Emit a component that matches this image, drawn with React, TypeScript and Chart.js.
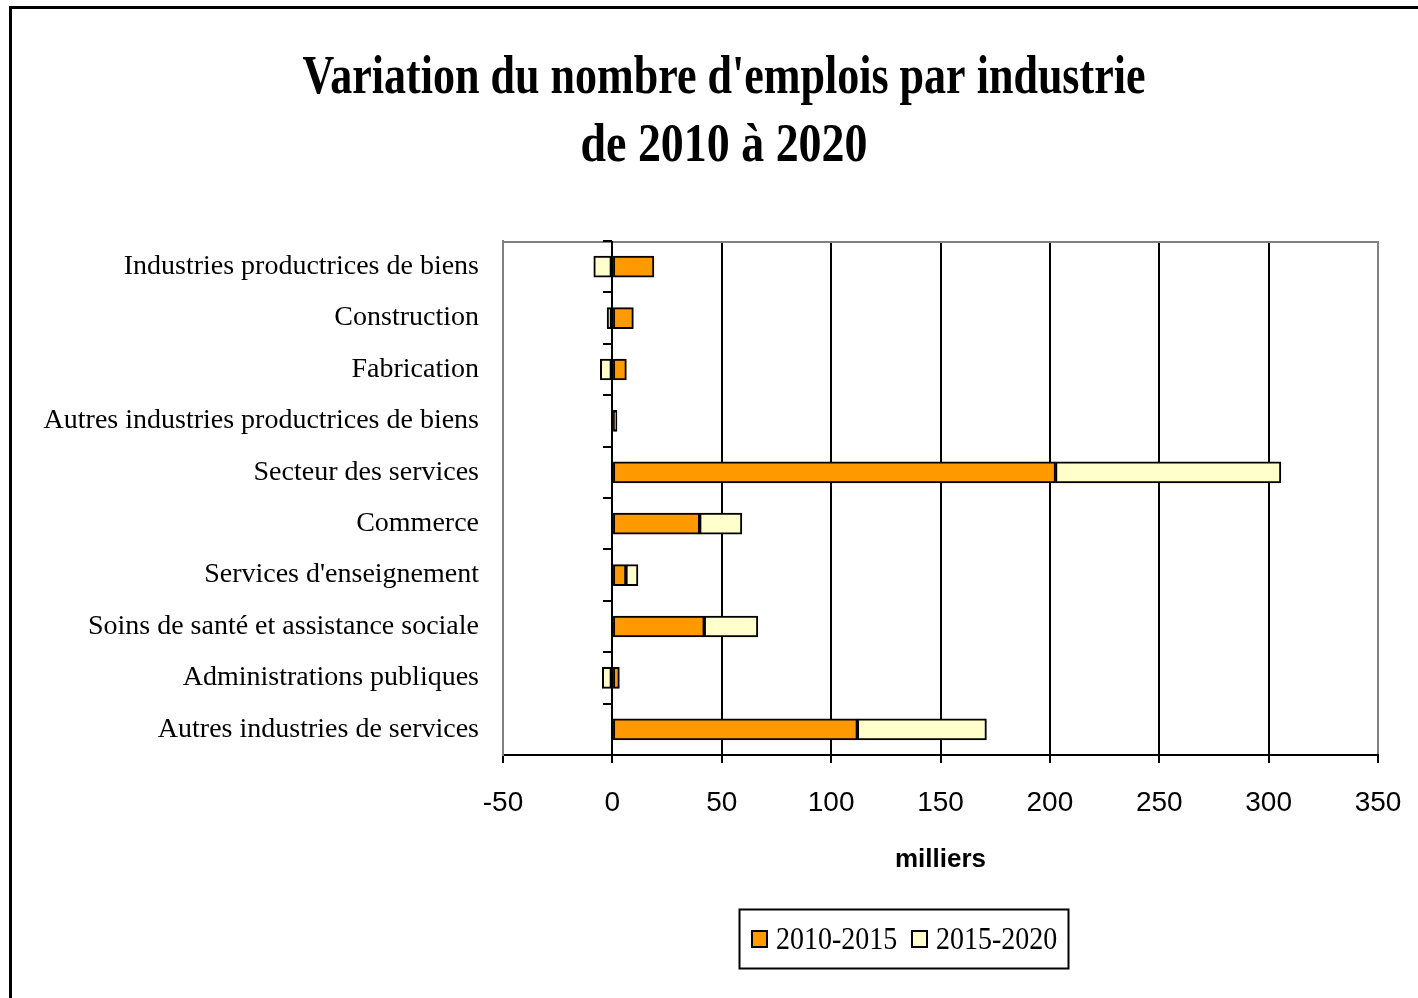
import { useEffect, useRef } from "react";
import { Chart, registerables } from "chart.js";

Chart.register(...registerables);

const TITLE_LINES = ["Variation du nombre d'emplois par industrie", "de 2010 à 2020"];
const CATEGORIES = [
  "Industries productrices de biens",
  "Construction",
  "Fabrication",
  "Autres industries productrices de biens",
  "Secteur des services",
  "Commerce",
  "Services d'enseignement",
  "Soins de santé et assistance sociale",
  "Administrations publiques",
  "Autres industries de services",
];
const SERIES_LABELS = ["2010-2015", "2015-2020"];
const VALUES_2010_2015 = [19, 9.6, 6.4, 2.1, 202.6, 39.9, 6.2, 42, 3.2, 112];
const VALUES_2015_2020 = [-8.5, -2.4, -5.5, 0, 103, 19.3, 5.5, 24.5, -4.6, 59];
const SERIES_COLORS = ["#FF9900", "#FFFFCC"];
const X_MIN = -50;
const X_MAX = 350;
const X_STEP = 50;
const X_TITLE = "milliers";

const W = 1418;
const H = 998;

const decorPlugin = {
  id: "decor",
  beforeDraw(chart: any) {
    const ctx = chart.ctx;
    ctx.save();
    ctx.fillStyle = "#ffffff";
    ctx.fillRect(0, 0, chart.width, chart.height);
    ctx.restore();
  },
  afterDraw(chart: any) {
    const ctx = chart.ctx;
    const area = chart.chartArea;
    const xs = chart.scales.x;
    ctx.save();

    // top border of plot area
    ctx.strokeStyle = "#808080";
    ctx.lineWidth = 2;
    ctx.beginPath();
    ctx.moveTo(area.left, area.top + 1);
    ctx.lineTo(area.right + 1, area.top + 1);
    ctx.stroke();

    // vertical category axis at zero with tick marks
    const x0 = Math.round(xs.getPixelForValue(0));
    const n = CATEGORIES.length;
    const step = (area.bottom - area.top) / n;
    ctx.strokeStyle = "#000";
    ctx.lineWidth = 2;
    ctx.beginPath();
    ctx.moveTo(x0, area.top);
    ctx.lineTo(x0, area.bottom);
    ctx.stroke();
    for (let i = 0; i <= n; i++) {
      const yy = Math.round(area.top + i * step);
      ctx.beginPath();
      ctx.moveTo(x0 - 9, yy);
      ctx.lineTo(x0, yy);
      ctx.stroke();
    }

    // outer frame
    ctx.strokeStyle = "#000";
    ctx.lineWidth = 3;
    ctx.strokeRect(10.5, 7.5, W + 40, H + 40);

    // title (condensed bold serif)
    ctx.fillStyle = "#000";
    ctx.font = "bold 52px 'Liberation Serif', 'Times New Roman', serif";
    ctx.textAlign = "center";
    ctx.textBaseline = "alphabetic";
    const targets = [843, 287];
    const cx = 724;
    const baselines = [93, 161];
    TITLE_LINES.forEach((line, i) => {
      const sx = targets[i] / ctx.measureText(line).width;
      ctx.save();
      ctx.translate(cx, baselines[i]);
      ctx.scale(sx, 1.06);
      ctx.fillText(line, 0, 0);
      ctx.restore();
    });

    // legend
    const lx = 739.5, ly = 909.5, lw = 329, lh = 59;
    ctx.lineWidth = 2;
    ctx.strokeStyle = "#000";
    ctx.strokeRect(lx, ly, lw, lh);
    ctx.font = "28px 'Liberation Serif', 'Times New Roman', serif";
    ctx.textAlign = "left";
    ctx.textBaseline = "middle";
    const items = [
      { box: 752, text: 776 },
      { box: 912, text: 936 },
    ];
    const datasets = chart.data.datasets;
    items.forEach((it, i) => {
      ctx.fillStyle = datasets[i].backgroundColor;
      ctx.fillRect(it.box, 931, 15, 16);
      ctx.lineWidth = 2;
      ctx.strokeStyle = "#000";
      ctx.strokeRect(it.box, 931, 15, 16);
      ctx.fillStyle = "#000";
      ctx.save();
      ctx.translate(it.text, 941);
      ctx.scale(1, 1.1);
      ctx.fillText(datasets[i].label, 0, 0);
      ctx.restore();
    });

    ctx.restore();
  },
};

export default function App() {
  const ref = useRef<HTMLCanvasElement | null>(null);

  useEffect(() => {
    if (!ref.current) return;
    const chart = new Chart(ref.current, {
      type: "bar",
      data: {
        labels: CATEGORIES,
        datasets: [
          {
            label: SERIES_LABELS[0],
            data: VALUES_2010_2015,
            backgroundColor: SERIES_COLORS[0],
            borderColor: "#000",
            borderWidth: 2,
            borderSkipped: false,
            barThickness: 21,
          },
          {
            label: SERIES_LABELS[1],
            data: VALUES_2015_2020,
            backgroundColor: SERIES_COLORS[1],
            borderColor: "#000",
            borderWidth: 2,
            borderSkipped: false,
            barThickness: 21,
          },
        ],
      },
      options: {
        indexAxis: "y",
        responsive: false,
        animation: false,
        devicePixelRatio: 1,
        layout: { padding: { left: 0, right: 40, top: 241, bottom: 0 } },
        plugins: {
          legend: { display: false },
          title: { display: false },
          tooltip: { enabled: false },
        },
        scales: {
          x: {
            type: "linear",
            stacked: true,
            min: X_MIN,
            max: X_MAX,
            afterFit(scale: any) {
              scale.height = H - 755;
              scale.paddingLeft = 0;
              scale.paddingRight = 0;
            },
            ticks: {
              stepSize: X_STEP,
              color: "#000",
              padding: 23,
              font: { family: "'Liberation Sans', Arial, sans-serif", size: 28 },
            },
            grid: {
              color: (c: any) =>
                c.tick && (c.tick.value === X_MIN || c.tick.value === X_MAX) ? "#808080" : "#000",
              tickColor: "#000",
              lineWidth: 2,
              tickLength: 8,
              drawTicks: true,
            },
            border: { color: "#000", width: 2 },
            title: {
              display: true,
              text: X_TITLE,
              color: "#000",
              font: { family: "'Liberation Sans', Arial, sans-serif", size: 26, weight: "bold" },
              padding: { top: 0, bottom: 123 },
            },
          },
          y: {
            stacked: true,
            afterFit(scale: any) {
              scale.width = 503;
              scale.paddingTop = 0;
              scale.paddingBottom = 0;
            },
            ticks: {
              color: "#000",
              padding: 24,
              font: { family: "'Liberation Serif', 'Times New Roman', serif", size: 28 },
            },
            grid: { display: false, drawTicks: false },
            border: { color: "#808080", width: 2 },
          },
        },
      },
      plugins: [decorPlugin],
    });
    return () => chart.destroy();
  }, []);

  return (
    <div style={{ position: "absolute", left: 0, top: 0, width: W, height: H }}>
      <canvas ref={ref} width={W} height={H} style={{ display: "block", width: W, height: H }} />
    </div>
  );
}
